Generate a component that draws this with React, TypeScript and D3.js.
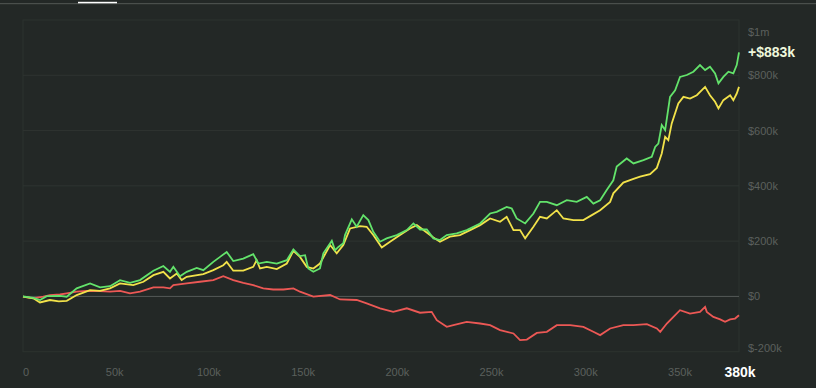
import React from "react";
import * as d3 from "d3";

// x in thousands, value in $ thousands
const greenSeries: [number, number][] = [
  [0, 0], [5.5, -5], [9, -13], [12.6, 1], [19.6, 2], [23.2, -1], [28.5, 29], [35.6, 47], [40.9, 33], [46.2, 37],
  [51.5, 59], [56.8, 49], [62.1, 59], [69.2, 93], [74.5, 110], [78, 89], [79.8, 107], [83.3, 73], [86.9, 89],
  [92.2, 103], [95.7, 95], [101, 125], [104.6, 143], [108.1, 161], [111.6, 128], [116.9, 137], [122.2, 153],
  [124.9, 119], [129.4, 125], [134.7, 119], [140, 131], [143.5, 170], [147, 146], [149.7, 149], [151.4, 101],
  [154.1, 89], [157.6, 101], [159.4, 156], [163.9, 201], [165.6, 167], [167.4, 179], [170, 192], [170.9, 222],
  [174.5, 279], [177.1, 252], [180.6, 294], [183.3, 276], [185.9, 234], [189.5, 198], [193, 210], [198.4, 222],
  [203.7, 240], [207.2, 264], [210.7, 242], [214.3, 242], [217.8, 210], [221.3, 204], [224.9, 222], [230.2, 228],
  [235.5, 240], [242.6, 264], [247.9, 300], [251.4, 306], [256.7, 324], [259.4, 318], [262, 282], [266.5, 264],
  [270.9, 300], [274.4, 342], [278, 342], [283.3, 330], [288.6, 348], [293.9, 342], [299.2, 360], [302.7, 336],
  [306.3, 348], [309.8, 385], [313.3, 420], [315.1, 470], [320.4, 499], [324, 481], [329.3, 493], [333.7, 505],
  [335.5, 541], [337.2, 553], [339, 620], [340.8, 602], [343.4, 722], [346.1, 746], [348.7, 794], [352.3, 801],
  [355.8, 813], [359.3, 837], [362, 819], [364.6, 831], [367.3, 807], [369.1, 771], [371.7, 794], [374.4, 813],
  [377, 807], [378.8, 837], [380, 883],
];

const yellowSeries: [number, number][] = [
  [0, -1], [5.5, -7], [9, -22], [14.3, -13], [19, -18], [23.2, -16], [28.5, 5], [35.6, 23], [40.9, 20], [46.2, 29],
  [51.5, 47], [58.5, 41], [63.9, 53], [69.2, 77], [74.5, 89], [78, 65], [81.6, 83], [84.2, 59], [86.9, 71],
  [95.7, 81], [101, 95], [106.3, 113], [108.1, 125], [111.6, 93], [116.9, 93], [122.2, 107], [124, 131],
  [125.8, 101], [129.4, 107], [134.7, 99], [140, 119], [143.5, 165], [147, 143], [150.6, 107], [154.1, 101],
  [157.6, 119], [163, 186], [166.5, 156], [170, 186], [173.6, 246], [178.9, 254], [182.4, 252], [185.9, 222],
  [190.4, 177], [194.8, 198], [200.1, 222], [205.4, 246], [209, 258], [212.5, 240], [217.8, 213], [221.3, 198],
  [226.6, 216], [231.9, 222], [237.3, 240], [242.6, 258], [247.9, 282], [253.2, 270], [256.7, 288], [260.3, 240],
  [263.8, 240], [266.5, 210], [270.9, 252], [274.4, 288], [278, 282], [283.3, 312], [286.8, 282], [292.1, 276],
  [297.4, 276], [301.9, 294], [306.3, 312], [311.6, 342], [313.3, 373], [318.6, 412], [324, 425], [327.5, 433],
  [332.8, 442], [336.4, 465], [339, 517], [340.8, 577], [342.5, 565], [344.3, 626], [347.8, 698], [350.5, 722],
  [354, 716], [357.6, 728], [362, 758], [364.6, 728], [367.3, 704], [369.1, 680], [371.7, 710], [375.3, 728],
  [377, 710], [378.8, 734], [380, 758],
];

const redSeries: [number, number][] = [
  [0, -1], [5.5, -7], [10.8, -1], [14.3, 5], [19.6, 7], [23.2, 11], [28.5, 17], [33.8, 20], [40.9, 19], [46.2, 17],
  [51.5, 20], [56.8, 11], [62.1, 17], [69.2, 33], [74.5, 33], [78, 29], [79.8, 41], [86.9, 47], [93.9, 53],
  [101, 59], [106.3, 73], [111.6, 59], [116.9, 49], [122.2, 41], [127.5, 29], [132.8, 25], [138.2, 25],
  [143.5, 29], [147, 17], [154.1, -1], [163, 5], [168.3, -11], [177.1, -13], [182.4, -25], [189.5, -43],
  [196.5, -56], [203.7, -43], [210.7, -59], [216.9, -56], [219.6, -86], [224.9, -110], [228.4, -104],
  [235.5, -92], [242.6, -98], [247.9, -104], [253.2, -122], [260.3, -134], [263.8, -158], [267.4, -156],
  [272.7, -132], [278, -128], [283.3, -104], [290.4, -104], [297.4, -110], [302.7, -128], [306.3, -140],
  [311.6, -116], [318.6, -104], [324, -104], [331.1, -100], [336.4, -116], [338.2, -128], [341.7, -98],
  [345.2, -74], [348.7, -50], [354, -62], [359.3, -56], [362, -38], [362.9, -56], [366.4, -74], [370, -83],
  [372.6, -92], [375.3, -83], [377.9, -80], [380, -68],
];

const xTicks = [0, 50, 100, 150, 200, 250, 300, 350];
const xTickLabels = ["0", "50k", "100k", "150k", "200k", "250k", "300k", "350k"];
const lastXLabel = "380k";
const yTicks = [1000, 800, 600, 400, 200, 0, -200];
const yTickLabels = ["$1m", "$800k", "$600k", "$400k", "$200k", "$0", "$-200k"];
const gridValues = [200, 400, 600, 800];
const endLabel = "+$883k";

const W = 816;
const H = 388;
const left = 23;
const right = 739;
const top = 20;
const bottom = 351.7;

const font = "'Liberation Sans', Arial, sans-serif";

const App = () => {
  const x = d3.scaleLinear().domain([0, 380]).range([left, right]);
  const y = d3.scaleLinear().domain([-200, 1000]).range([bottom, top]);
  const line = d3
    .line<[number, number]>()
    .x(d => x(d[0]))
    .y(d => y(d[1]));

  const series = [
    { data: redSeries, color: "#ec5855" },
    { data: yellowSeries, color: "#f2e24a" },
    { data: greenSeries, color: "#63e36b" },
  ];
  const lastGreen = greenSeries[greenSeries.length - 1];

  return (
    <div style={{ position: "fixed", inset: 0, background: "#232826" }}>
      <svg width={W} height={H} style={{ display: "block", fontFamily: font }}>
        <rect x={0} y={0} width={W} height={H} fill="#232826" />
        <rect x={0} y={3} width={W} height={1.2} fill="#4a4f4c" />
        <rect x={78} y={1.8} width={39} height={1.5} fill="#ffffff" />

        <rect x={left} y={top} width={right - left} height={bottom - top} fill="none" stroke="#2c322f" />
        {gridValues.map(v => (
          <line key={v} x1={left} x2={right} y1={y(v)} y2={y(v)} stroke="#2e3431" />
        ))}
        <line x1={left} x2={right} y1={y(0)} y2={y(0)} stroke="#545957" />

        {series.map((s, i) => (
          <path key={i} d={line(s.data) || ""} fill="none" stroke={s.color} strokeWidth={1.8} strokeLinejoin="miter" />
        ))}

        {yTicks.map((v, i) => (
          <text
            key={v}
            x={748}
            y={Math.min(Math.max(y(v), top + 12), bottom - 4)}
            dominantBaseline="central"
            fontSize={11}
            fill="#5b605d"
          >
            {yTickLabels[i]}
          </text>
        ))}
        <text
          x={748}
          y={y(lastGreen[1])}
          dominantBaseline="central"
          fontSize={14}
          fontWeight="bold"
          fill="#eef7dc"
        >
          {endLabel}
        </text>

        {xTicks.map((v, i) => (
          <text
            key={v}
            x={i === 0 ? left : x(v) - 2.5}
            y={372}
            textAnchor={i === 0 ? "start" : "middle"}
            dominantBaseline="central"
            fontSize={11}
            fill="#5b605d"
          >
            {xTickLabels[i]}
          </text>
        ))}
        <text
          x={right + 1}
          y={372}
          textAnchor="middle"
          dominantBaseline="central"
          fontSize={14}
          fontWeight="bold"
          fill="#ffffff"
        >
          {lastXLabel}
        </text>
      </svg>
    </div>
  );
};

export default App;
